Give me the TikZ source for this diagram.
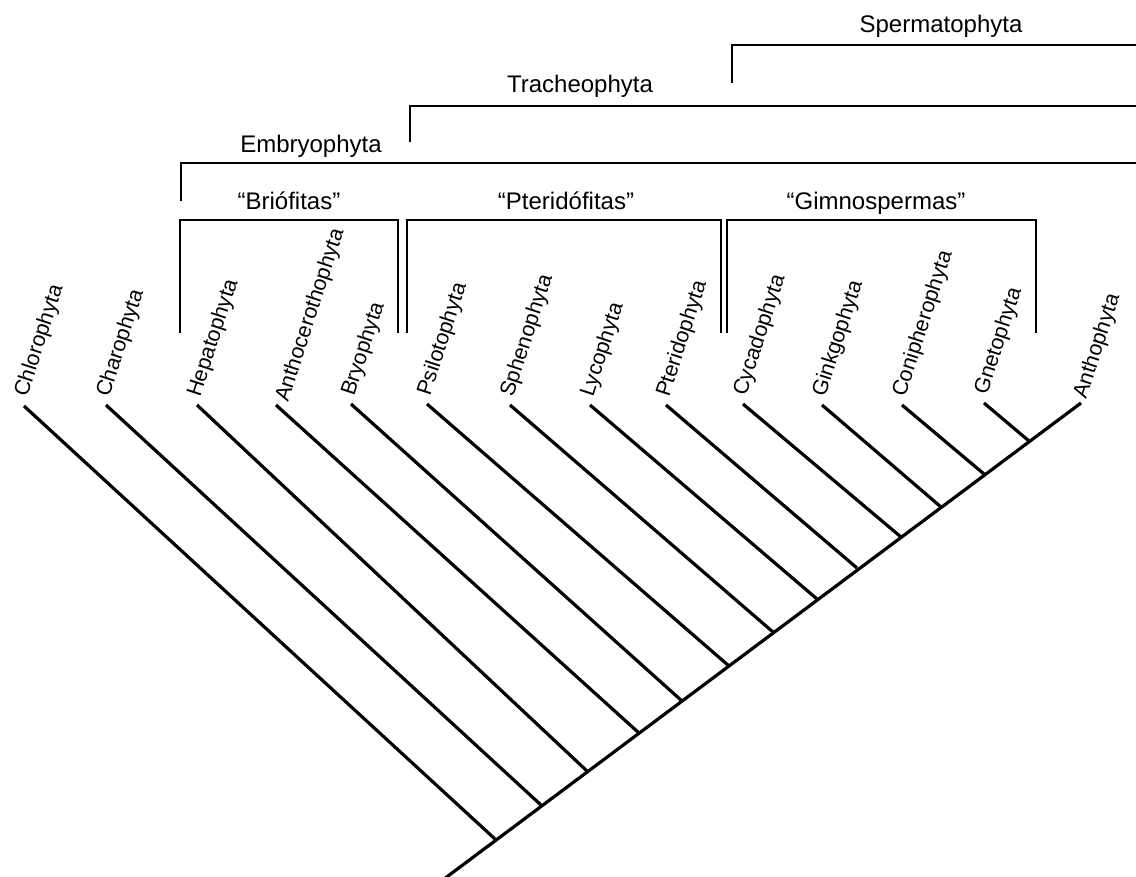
\documentclass[tikz,border=0pt]{standalone}
\usepackage{fontspec}
\setmainfont{Liberation Sans}
\begin{document}
\begin{tikzpicture}[x=1pt,y=-1pt,
  branch/.style={line width=3.2pt},
  brk/.style={line width=1.5pt},
  taxon/.style={rotate=72, anchor=base west, inner sep=0pt, font=\fontsize{21.5}{24}\selectfont},
  grp/.style={anchor=base, inner sep=0pt, font=\fontsize{24}{28}\selectfont}]
\useasboundingbox (0,0) rectangle (1136,877);

% backbone
\coordinate (root) at (444,879);
\coordinate (tAnph) at (1081,403);
\coordinate (j1) at (495,839);
\coordinate (j2) at (541,805);
\coordinate (j3) at (587,771);
\coordinate (j4) at (639,733);
\coordinate (j5) at (682,701);
\coordinate (j6) at (729,666);
\coordinate (j7) at (773,632);
\coordinate (j8) at (817,599);
\coordinate (j9) at (857,568);
\coordinate (j10) at (901,537);
\coordinate (j11) at (941,507);
\coordinate (j12) at (984,474);
\coordinate (j13) at (1029,441);

\coordinate (tChl) at (24,406);
\coordinate (tCha) at (106,405);
\coordinate (tHep) at (197,405);
\coordinate (tAnt) at (276,405);
\coordinate (tBry) at (351,404);
\coordinate (tPsi) at (427,404);
\coordinate (tSph) at (510,405);
\coordinate (tLyc) at (590,405);
\coordinate (tPte) at (666,405);
\coordinate (tCyc) at (743,404);
\coordinate (tGin) at (822,405);
\coordinate (tCon) at (902,405);
\coordinate (tGne) at (984,403);

\draw[branch] (root) -- (tAnph);
\draw[branch] (j1) -- (tChl);
\draw[branch] (j2) -- (tCha);
\draw[branch] (j3) -- (tHep);
\draw[branch] (j4) -- (tAnt);
\draw[branch] (j5) -- (tBry);
\draw[branch] (j6) -- (tPsi);
\draw[branch] (j7) -- (tSph);
\draw[branch] (j8) -- (tLyc);
\draw[branch] (j9) -- (tPte);
\draw[branch] (j10) -- (tCyc);
\draw[branch] (j11) -- (tGin);
\draw[branch] (j12) -- (tCon);
\draw[branch] (j13) -- (tGne);

% taxon labels
\node[taxon] (lChl) at (27,398) {Chlorophyta};
\node[taxon] (lCha) at (109,398) {Charophyta};
\node[taxon] (lHep) at (200,398) {Hepatophyta};
\node[taxon] (lAnt) at (288,403) {Anthocerothophyta};
\node[taxon] (lBry) at (354,397) {Bryophyta};
\node[taxon] (lPsi) at (430,397) {Psilotophyta};
\node[taxon] (lSph) at (513,398) {Sphenophyta};
\node[taxon] (lLyc) at (593,398) {Lycophyta};
\node[taxon] (lPte) at (669,398) {Pteridophyta};
\node[taxon] (lCyc) at (746,397) {Cycadophyta};
\node[taxon] (lGin) at (825,398) {Ginkgophyta};
\node[taxon] (lCon) at (905,398) {Conipherophyta};
\node[taxon] (lGne) at (987,396) {Gnetophyta};
\node[taxon] (lAnph) at (1086,400) {Anthophyta};

% group brackets
\draw[brk] (180,333) -- (180,220) -- (398,220) -- (398,333);
\draw[brk] (407,333) -- (407,220) -- (721,220) -- (721,333);
\draw[brk] (727,333) -- (727,220) -- (1036,220) -- (1036,333);
\node[grp] (gBri) at (289,210) {“Brióf{}itas”};
\node[grp] (gPte) at (566,210) {“Pteridóf{}itas”};
\node[grp] (gGim) at (876,210) {“Gimnospermas”};

% clade brackets
\draw[brk] (181,201) -- (181,163) -- (1137,163);
\draw[brk] (410,142) -- (410,106) -- (1137,106);
\draw[brk] (732,83) -- (732,45) -- (1137,45);
\node[grp] (cEmb) at (311,153) {Embryophyta};
\node[grp] (cTra) at (580,93) {Tracheophyta};
\node[grp] (cSpe) at (941,33) {Spermatophyta};
\end{tikzpicture}
\end{document}
